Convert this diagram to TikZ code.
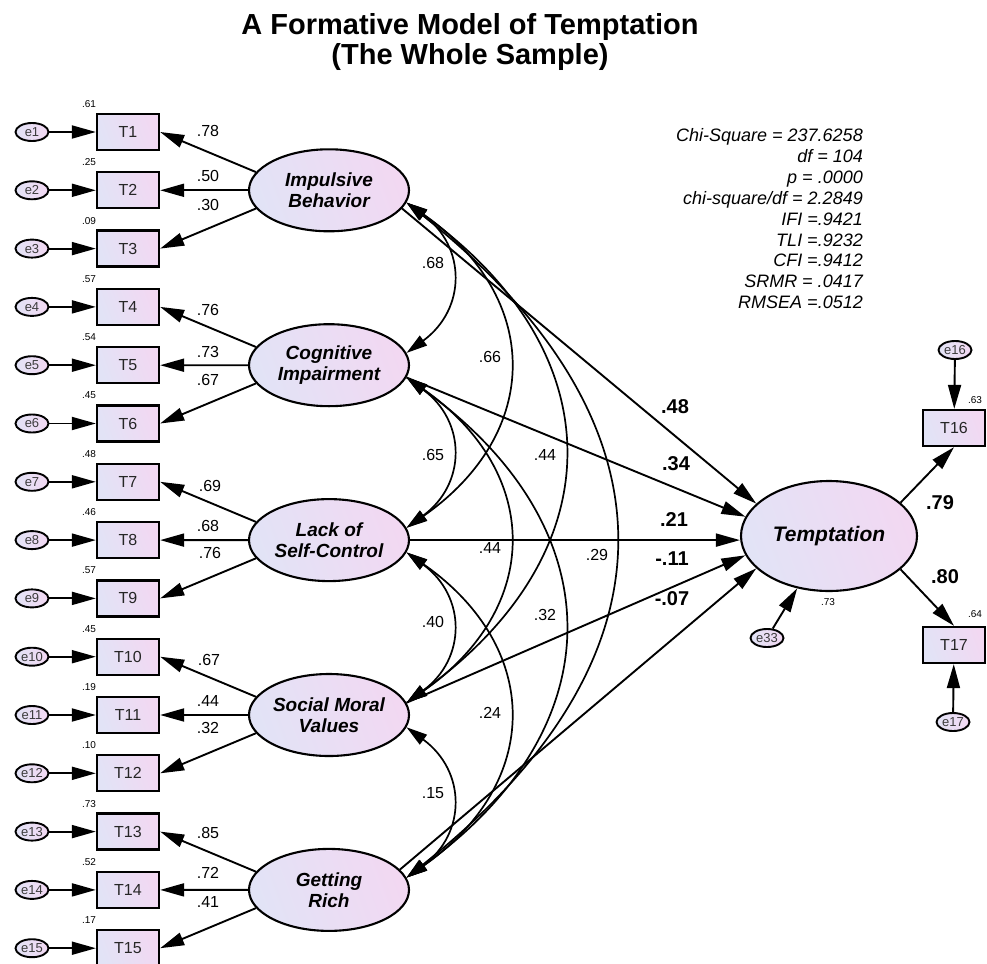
\documentclass[tikz,border=0pt]{standalone}
\usepackage{fontspec}
\setmainfont{Liberation Sans}
\usetikzlibrary{arrows.meta,shapes.geometric}
\definecolor{lavL}{RGB}{226,227,246}
\definecolor{lavR}{RGB}{242,216,242}
\definecolor{etext}{RGB}{60,60,60}
\newcommand\myfs[2]{\fontsize{#1}{#2}\selectfont}
\begin{document}
\begin{tikzpicture}[x=1pt,y=-1pt,
  tip/.style={-{Triangle[length=24pt,width=13pt]}},
  dtip/.style={{Triangle[length=21pt,width=12pt]}-{Triangle[length=21pt,width=12pt]}},
  ln/.style={line width=1.9pt},
  cov/.style={line width=1.7pt,dtip},
  obs/.style={draw,line width=2.3pt,minimum width=62pt,minimum height=36pt,inner sep=0pt,
    left color=lavL,right color=lavR,shading angle=110,font=\myfs{16}{19},text=black!85},
  err/.style={ellipse,draw,line width=1.9pt,minimum width=33pt,minimum height=18pt,inner sep=0pt,
    left color=lavL,right color=lavR,font=\myfs{13}{14},text=etext},
  lat/.style={ellipse,draw,line width=2.1pt,minimum width=160pt,minimum height=82pt,inner sep=0pt,
    left color=lavL,right color=lavR,shading angle=110,font=\myfs{19}{21}\bfseries\itshape,align=center},
  lab/.style={font=\myfs{16}{19},inner sep=0pt},
  slab/.style={font=\myfs{20}{23}\bfseries,inner sep=0pt},
  rsq/.style={font=\myfs{10}{12},inner sep=0pt},
  stat/.style={font=\myfs{18}{21}\itshape,anchor=base east,inner sep=0pt},
  ttl/.style={font=\myfs{29}{31}\bfseries,anchor=base,inner sep=0pt}
]
\useasboundingbox (0,0) rectangle (987,963);

% title
\node[ttl] (title1) at (470,35) {A Formative Model of Temptation};
\node[ttl] (title2) at (470,65) {(The Whole Sample)};

% indicators
\foreach \i/\r in {1/.61,2/.25,3/.09,4/.57,5/.54,6/.45,7/.48,8/.46,9/.57,10/.45,11/.19,12/.10,13/.73,14/.52,15/.17}{
  \pgfmathsetmacro\yy{132+(\i-1)*58.3}
  \node[obs] (T\i) at (128,\yy) {T\i};
  \node[err] (e\i) at (32,\yy) {e\i};
  \node[rsq] (r\i) at (89,\yy-28) {\r};
  \draw[ln,tip] (e\i) -- (T\i);
}

% latent factors
\node[lat] (IB) at (329,190.3) {Impulsive\\Behavior};
\node[lat] (CI) at (329,365.2) {Cognitive\\Impairment};
\node[lat] (LSC) at (329,540.1) {Lack of\\Self-Control};
\node[lat] (SMV) at (329,715) {Social Moral\\Values};
\node[lat] (GR) at (329,889.9) {Getting\\Rich};

% loadings
\foreach \L/\a/\b/\c in {IB/1/2/3,CI/4/5/6,LSC/7/8/9,SMV/10/11/12,GR/13/14/15}{
  \draw[ln,tip] (\L.166) -- (T\a.east);
  \draw[ln,tip] (\L.west) -- (T\b.east);
  \draw[ln,tip] (\L.194) -- (T\c.east);
}
\node[lab] (l1) at (208,131) {.78};
\node[lab] (l2) at (208,176) {.50};
\node[lab] (l3) at (208,205) {.30};
\node[lab] (l4) at (208,310) {.76};
\node[lab] (l5) at (208,352) {.73};
\node[lab] (l6) at (208,380) {.67};
\node[lab] (l7) at (210,486) {.69};
\node[lab] (l8) at (208,526) {.68};
\node[lab] (l9) at (210,553) {.76};
\node[lab] (l10) at (209,660) {.67};
\node[lab] (l11) at (208,701) {.44};
\node[lab] (l12) at (208,728) {.32};
\node[lab] (l13) at (208,833) {.85};
\node[lab] (l14) at (208,873) {.72};
\node[lab] (l15) at (208,902) {.41};

% outcome
\node[lat,minimum width=176pt,minimum height=110pt,font=\myfs{21}{24}\bfseries\itshape] (TM) at (829,536) {Temptation};
\node[obs] (T16) at (954,428) {T16};
\node[obs] (T17) at (954,645) {T17};
\node[err] (e16) at (955,350) {e16};
\node[err] (e17) at (953,722) {e17};
\node[err] (e33) at (767,638) {e33};
\draw[ln,tip] (e16) -- (T16);
\draw[ln,tip] (e17) -- (T17);
\draw[ln,tip] (e33) -- (TM);
\draw[ln,tip] (TM.25) -- (T16.south);
\draw[ln,tip] (TM.-25) -- (T17.north);
\node[rsq] (r16) at (975,400) {.63};
\node[rsq] (r17) at (975,614) {.64};
\node[rsq] (r33) at (828,602) {.73};
\node[slab] (s16) at (940,503) {.79};
\node[slab] (s17) at (945,577) {.80};

% structural paths
\draw[ln,tip] (IB.-14) -- (TM.156);
\draw[ln,tip] (CI.-9) -- (TM.167);
\draw[ln,tip] (LSC.east) -- (LSC.east -| TM.west);
\draw[ln,tip] (SMV.9) -- (TM.193);
\draw[ln,tip] (GR.16) -- (TM.204);
\node[slab] (p1) at (675,407) {.48};
\node[slab] (p2) at (676,464) {.34};
\node[slab] (p3) at (674,520) {.21};
\node[slab] (p4) at (672,559) {-.11};
\node[slab] (p5) at (672,599) {-.07};

% covariances
\draw[cov] (IB.-9) .. controls +(60,44) and +(60,-44) .. (CI.9);
\draw[cov] (IB.-9) .. controls +(136,95) and +(136,-95) .. (LSC.9);
\draw[cov] (IB.-9) .. controls +(209,150) and +(209,-150) .. (SMV.9);
\draw[cov] (IB.-9) .. controls +(277,220) and +(277,-220) .. (GR.9);
\draw[cov] (CI.-9) .. controls +(60,44) and +(60,-44) .. (LSC.9);
\draw[cov] (CI.-9) .. controls +(136,95) and +(136,-95) .. (SMV.9);
\draw[cov] (CI.-9) .. controls +(209,150) and +(209,-150) .. (GR.9);
\draw[cov] (LSC.-9) .. controls +(60,44) and +(60,-44) .. (SMV.9);
\draw[cov] (LSC.-9) .. controls +(136,95) and +(136,-95) .. (GR.9);
\draw[cov] (SMV.-9) .. controls +(60,44) and +(60,-44) .. (GR.9);
\node[lab] (c1) at (433,263) {.68};
\node[lab] (c2) at (490,357) {.66};
\node[lab] (c3) at (545,455) {.44};
\node[lab] (c4) at (597,555) {.29};
\node[lab] (c5) at (433,455) {.65};
\node[lab] (c6) at (490,548) {.44};
\node[lab] (c7) at (545,615) {.32};
\node[lab] (c8) at (433,622) {.40};
\node[lab] (c9) at (490,713) {.24};
\node[lab] (c10) at (433,793) {.15};

% fit statistics
\node[stat] (f1) at (863,141.5) {Chi-Square = 237.6258};
\node[stat] (f2) at (863,162.4) {df = 104};
\node[stat] (f3) at (863,183.3) {p = .0000};
\node[stat] (f4) at (863,204.2) {chi-square/df = 2.2849};
\node[stat] (f5) at (863,225.1) {IFI =.9421};
\node[stat] (f6) at (863,246.0) {TLI =.9232};
\node[stat] (f7) at (863,266.9) {CFI =.9412};
\node[stat] (f8) at (863,287.8) {SRMR = .0417};
\node[stat] (f9) at (863,308.7) {RMSEA =.0512};
\end{tikzpicture}
\end{document}
